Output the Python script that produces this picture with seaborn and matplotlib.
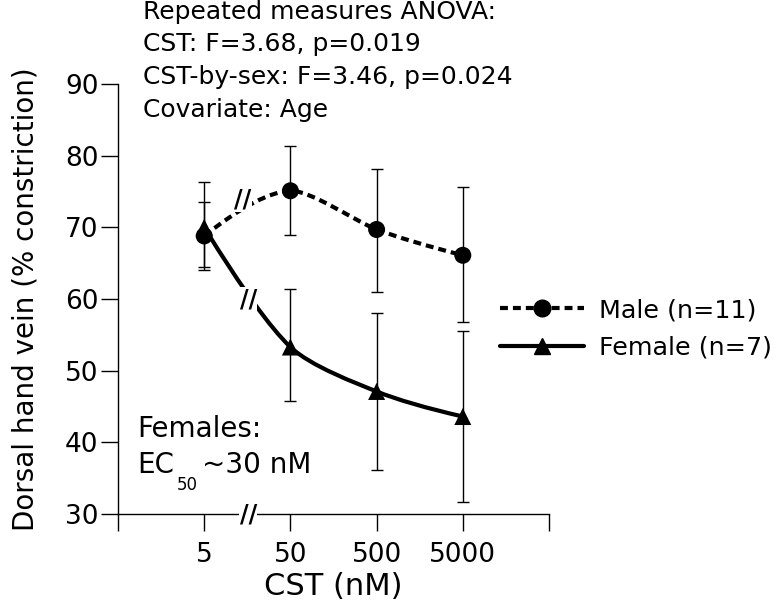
import numpy as np
import pandas as pd
import matplotlib
matplotlib.use("Agg")
import matplotlib.pyplot as plt
from matplotlib.path import Path
from matplotlib.patches import PathPatch
from matplotlib.lines import Line2D
import seaborn as sns

# values
conc_labels = ["5", "50", "500", "5000"]
male_mean = [68.8, 75.1, 69.7, 66.1]
male_upper = [76.3, 81.3, 78.2, 75.6]
male_lower = [64.0, 68.9, 61.0, 56.8]
female_mean = [70.0, 53.3, 47.1, 43.6]
female_upper = [73.6, 61.4, 58.1, 55.6]
female_lower = [64.4, 45.7, 36.2, 31.7]
legend_labels = ["Male (n=11)", "Female (n=7)"]
stats_lines = [
    "Repeated measures ANOVA:",
    "CST: F=3.68, p=0.019",
    "CST-by-sex: F=3.46, p=0.024",
    "Covariate: Age",
]

W, H = 782, 611


def fx(px):
    return px / W


def fy(py):
    return 1 - py / H


def smooth_path(xs, ys, tension=0.7):
    # bezier curve through the points (cardinal spline tangents)
    p = np.column_stack([xs, ys]).astype(float)
    m = np.zeros_like(p)
    m[1:-1] = tension * (p[2:] - p[:-2]) / 2
    m[0] = 2 * (p[1] - p[0]) - m[1]
    m[-1] = 2 * (p[-1] - p[-2]) - m[-2]
    verts = [p[0]]
    codes = [Path.MOVETO]
    for i in range(len(p) - 1):
        verts += [p[i] + m[i] / 3, p[i + 1] - m[i + 1] / 3, p[i + 1]]
        codes += [Path.CURVE4] * 3
    return Path(verts, codes)


sns.set_theme(style="ticks", rc={
    "axes.edgecolor": "black", "axes.linewidth": 1.0,
    "xtick.color": "black", "ytick.color": "black",
    "xtick.major.width": 1.0, "ytick.major.width": 1.0,
    "xtick.major.size": 12, "ytick.major.size": 12,
    "text.color": "black", "axes.labelcolor": "black",
})
plt.rcParams["font.family"] = ["DejaVu Sans"]

x_pos = np.arange(1, len(conc_labels) + 1)
df = pd.DataFrame({
    "x": np.concatenate([x_pos, x_pos]),
    "value": male_mean + female_mean,
    "sex": ["Male"] * len(x_pos) + ["Female"] * len(x_pos),
})

fig = plt.figure(figsize=(W / 100, H / 100), dpi=100)
ax = fig.add_axes([fx(118), fy(514), fx(549) - fx(118), fy(84) - fy(514)])

dash = (0, (1.9, 1.2))
male_err = [np.subtract(male_mean, male_lower), np.subtract(male_upper, male_mean)]
female_err = [np.subtract(female_mean, female_lower), np.subtract(female_upper, female_mean)]
ax.errorbar(x_pos, male_mean, yerr=male_err, fmt="none", ecolor="black",
            elinewidth=1.0, capsize=4.5, capthick=1.0, zorder=2)
ax.errorbar(x_pos, female_mean, yerr=female_err, fmt="none", ecolor="black",
            elinewidth=1.0, capsize=4.5, capthick=1.0, zorder=2)

ax.add_patch(PathPatch(smooth_path(x_pos, male_mean), fill=False, edgecolor="black",
                       lw=3, linestyle=dash, zorder=3))
ax.add_patch(PathPatch(smooth_path(x_pos, female_mean), fill=False, edgecolor="black",
                       lw=3, zorder=3))

sns.scatterplot(data=df, x="x", y="value", style="sex",
                markers={"Male": "o", "Female": "^"}, color="black",
                s=150, linewidth=0, legend=False, ax=ax, zorder=4)

ax.set_xlim(0, 5)
ax.set_ylim(30, 90)
ax.set_xticks(range(6))
ax.set_xticklabels([""] + conc_labels + [""])
ax.set_yticks(range(30, 91, 10))
ax.tick_params(axis="x", labelsize=19, pad=8)
ax.tick_params(axis="y", labelsize=19, pad=2)
sns.despine(ax=ax)
ax.set_xlabel("CST (nM)", fontsize=22, labelpad=3)
ax.set_ylabel("Dorsal hand vein (% constriction)", fontsize=20)
ax.yaxis.set_label_coords((40 - 118) / 431, 0.5)

# axis / curve break marks
brk = dict(ha="center", va="center", fontsize=17, fontweight="bold", zorder=6,
           clip_on=False, bbox=dict(facecolor="white", edgecolor="none", pad=0.5))
ax.text(1.51, 30, "//", **brk)
ax.text(1.45, 73.9, "//", **brk)
ax.text(1.51, 59.9, "//", **brk)

# stats text
for i, line in enumerate(stats_lines):
    fig.text(fx(143), fy(19 + 32.5 * i), line, fontsize=18, va="baseline")

fig.text(fx(137), fy(437), "Females:", fontsize=20, va="baseline")
fig.text(fx(137), fy(473), "EC", fontsize=20, va="baseline")
fig.text(fx(177), fy(490), "50", fontsize=12, va="baseline")
fig.text(fx(202), fy(473), "~30 nM", fontsize=20, va="baseline")

handles = [
    Line2D([], [], color="black", lw=3, linestyle=dash, marker="o", markersize=12),
    Line2D([], [], color="black", lw=3, marker="^", markersize=12),
]
fig.legend(handles, legend_labels, loc="center left", bbox_to_anchor=(fx(500), fy(329)),
           frameon=False, fontsize=18.3, handlelength=3.3, handletextpad=0.6,
           labelspacing=0.55, borderpad=0, borderaxespad=0)

fig.savefig("out.png", dpi=100)
